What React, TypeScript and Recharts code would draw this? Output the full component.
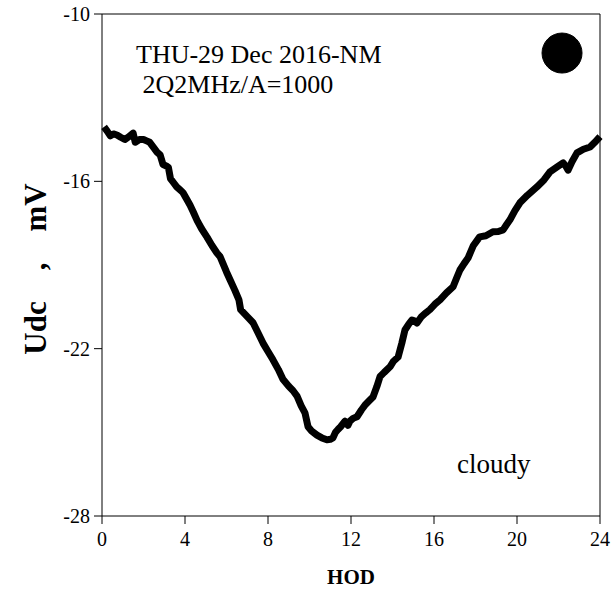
import { LineChart, Line, XAxis, YAxis, ReferenceLine, ReferenceDot } from 'recharts';

// hour of day
const hod = [
  0.1, 0.25, 0.4, 0.55, 0.72, 0.9, 1.1, 1.3, 1.5, 1.6, 1.8, 2.0, 2.15, 2.3, 2.5, 2.65, 2.8, 2.94,
  3.1, 3.2, 3.3, 3.45, 3.6, 3.75, 3.9, 4.05, 4.24, 4.4, 4.58, 4.8, 5.06, 5.3, 5.54, 5.69, 6.0,
  6.17, 6.4, 6.6, 6.68, 7.0, 7.28, 7.5, 7.76, 8.0, 8.24, 8.5, 8.72, 9.0, 9.2, 9.4, 9.6, 9.78,
  9.93, 10.1, 10.36, 10.6, 10.84, 11.0, 11.13, 11.25, 11.37, 11.5, 11.71, 11.85, 11.95, 12.1,
  12.29, 12.5, 12.7, 12.9, 13.06, 13.25, 13.4, 13.6, 13.88, 14.05, 14.27, 14.45, 14.6, 14.8,
  14.94, 15.05, 15.18, 15.4, 15.6, 15.8, 16.05, 16.29, 16.6, 16.92, 17.1, 17.25, 17.45, 17.64,
  17.9, 18.2, 18.5, 18.84, 19.1, 19.33, 19.5, 19.66, 19.9, 20.14, 20.5, 20.96, 21.3, 21.59,
  21.9, 22.22, 22.35, 22.46, 22.65, 22.89, 23.2, 23.52, 23.75, 24.0,
];

// Udc, mV
const udc = [
  -14.05, -14.2, -14.37, -14.3, -14.34, -14.42, -14.5, -14.4, -14.27, -14.6, -14.5, -14.5, -14.55,
  -14.6, -14.8, -14.95, -15.05, -15.4, -15.45, -15.5, -15.9, -16.05, -16.2, -16.3, -16.4, -16.6,
  -16.85, -17.1, -17.4, -17.7, -18.0, -18.3, -18.57, -18.7, -19.25, -19.53, -19.9, -20.25, -20.6,
  -20.85, -21.07, -21.4, -21.8, -22.1, -22.4, -22.75, -23.1, -23.35, -23.5, -23.7, -24.05, -24.3,
  -24.8, -24.95, -25.1, -25.2, -25.27, -25.25, -25.2, -25.0, -24.9, -24.8, -24.6, -24.75, -24.6,
  -24.5, -24.44, -24.2, -24.0, -23.85, -23.73, -23.35, -23.0, -22.85, -22.65, -22.45, -22.3,
  -21.8, -21.33, -21.1, -20.97, -21.0, -21.08, -20.85, -20.72, -20.6, -20.4, -20.25, -20.0,
  -19.78, -19.45, -19.18, -18.95, -18.75, -18.3, -17.99, -17.95, -17.81, -17.8, -17.74, -17.55,
  -17.38, -17.05, -16.77, -16.5, -16.2, -15.95, -15.66, -15.5, -15.34, -15.45, -15.6, -15.3,
  -14.98, -14.85, -14.77, -14.6, -14.4,
];

const xTicks = [0, 4, 8, 12, 16, 20, 24];
const yTicks = [-28, -22, -16, -10];

const data = hod.map((h, i) => ({ hod: h, udc: udc[i] }));

const serif = '"Liberation Serif", "Times New Roman", serif';

export default function App() {
  return (
    <div style={{ position: 'absolute', left: 0, top: 0, width: 612, height: 597, background: '#fff', fontFamily: serif }}>
      <LineChart width={612} height={597} data={data} margin={{ top: 14, right: 12, bottom: 0, left: 0 }}>
        <XAxis
          dataKey="hod"
          type="number"
          domain={[0, 24]}
          ticks={xTicks}
          height={81}
          stroke="#000"
          tickSize={8}
          tickMargin={8}
          tick={{ fill: '#000', fontSize: 20, fontFamily: serif }}
        />
        <YAxis
          dataKey="udc"
          type="number"
          domain={[-28, -10]}
          ticks={yTicks}
          width={102}
          stroke="#000"
          tickSize={8}
          tickMargin={4}
          tick={{ fill: '#000', fontSize: 20, fontFamily: serif }}
        />
        <ReferenceLine y={-10} stroke="#000" />
        <ReferenceLine x={24} stroke="#000" />
        <ReferenceDot x={22.17} y={-11.4} r={20} fill="#000" stroke="#000" />
        <Line
          dataKey="udc"
          type="linear"
          stroke="#000"
          strokeWidth={7}
          strokeLinejoin="round"
          dot={false}
          isAnimationActive={false}
        />
      </LineChart>
      <div style={{ position: 'absolute', left: 136, top: 40, fontSize: 26, lineHeight: '30px', whiteSpace: 'pre' }}>
        {'THU-29 Dec 2016-NM\n 2Q2MHz/A=1000'}
      </div>
      <div style={{ position: 'absolute', left: 457, top: 449, fontSize: 27, lineHeight: '30px' }}>cloudy</div>
      <div style={{ position: 'absolute', left: 0, width: 612, top: 565, textAlign: 'center', paddingLeft: 90, boxSizing: 'border-box', fontSize: 21, fontWeight: 'bold' }}>
        HOD
      </div>
      <div
        style={{
          position: 'absolute',
          left: 36,
          top: 269,
          transform: 'translate(-50%, -50%) rotate(-90deg)',
          fontSize: 31,
          fontWeight: 'bold',
          whiteSpace: 'pre',
        }}
      >
        {'Udc    ,    mV'}
      </div>
    </div>
  );
}
